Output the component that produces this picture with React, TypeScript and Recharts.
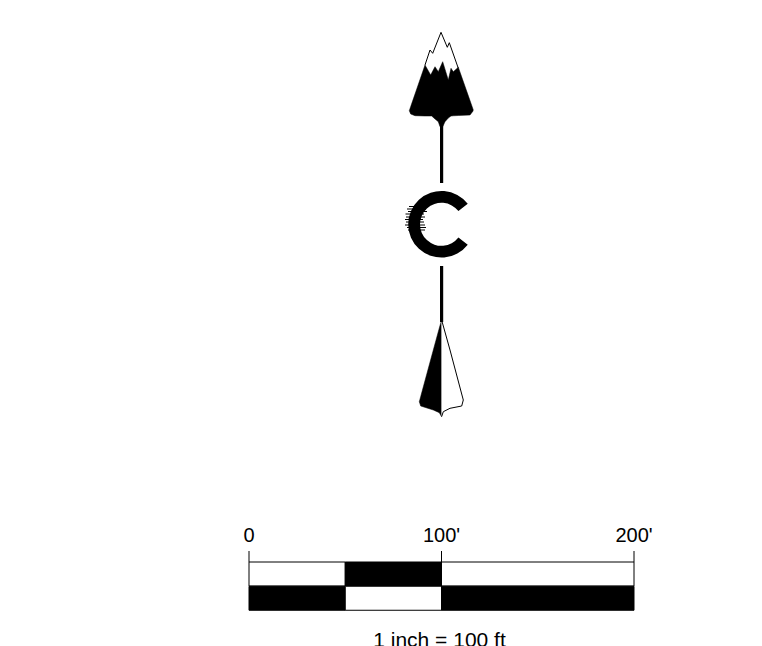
import { Area, Bar, BarChart, Cell, ComposedChart, Label, Line, Pie, PieChart, XAxis, YAxis } from 'recharts'

const WIDTH = 762
const HEIGHT = 646
const FONT = '"Liberation Sans", Arial, sans-serif'

// scale bar, in feet
const scaleTicks = [0, 100, 200]
const scaleRows = ['top', 'bottom']
const scaleFirst = [50, 50]
const scaleSecond = [50, 50]
const scaleThird = [100, 100]
const firstColors = ['#fff', '#000']
const secondColors = ['#000', '#fff']
const thirdColors = ['#fff', '#000']
const scaleCaption = '1 inch = 100 ft'

// north arrow in page pixels
const crownX = [409.3, 410.7, 415, 425, 430.7, 431.7, 435, 438.3, 440, 442.7, 445, 448.3, 451, 453.3, 458.3, 470, 473.3]
const crownTop = [110.7, 106.6, 94.1, 65, 75, 73, 66.7, 71.7, 67.8, 61.7, 69.2, 80, 68.3, 71.7, 67.3, 100.6, 110]
const crownBottom = [110.7, 114, 115.7, 116, 116, 116, 118.9, 121.7, 126.7, 126.7, 121.7, 118, 116, 115.8, 115.5, 115, 110.7]

const peakX = [425, 430, 432.7, 441, 447.3, 449.3, 458.3]
const peakY = [65, 50, 53.3, 32.3, 47.3, 42.7, 68.3]

const stemX = [441.6, 441.6, null, 441.6, 441.6]
const stemY = [124, 183, null, 266, 322]

const tailLeftX = [419.3, 420.7, 433.3, 439.3, 441.6]
const tailLeftTop = [401.7, 396.5, 350, 328, 320]
const tailLeftBottom = [401.7, 406, 410, 412.7, 416.7]

const tailRightX = [441.6, 443.3, 450, 461.7, 463.3]
const tailRightTop = [320, 326, 350, 394, 400]
const tailRightBottom = [416.7, 411.7, 408.3, 406, 400]

const ringValue = [1]

const hairY = [206.5, 209, 211.5, 214, 217, 219.5, 222, 225, 227.5, 230]
const hairOuter = [409, 407, 408, 405.5, 406, 405, 406, 405, 407, 408]
const hairInner = [428, 426, 427, 424, 425, 423, 424, 425, 426, 425]

const scaleData = scaleRows.map((row, i) => ({
  row,
  first: scaleFirst[i],
  second: scaleSecond[i],
  third: scaleThird[i],
}))
const crownData = crownX.map((x, i) => ({ x, band: [crownTop[i], crownBottom[i]] }))
const tailLeftData = tailLeftX.map((x, i) => ({ x, band: [tailLeftTop[i], tailLeftBottom[i]] }))
const tailRightData = tailRightX.map((x, i) => ({ x, band: [tailRightTop[i], tailRightBottom[i]] }))
const peakData = peakX.map((x, i) => ({ x, y: peakY[i] }))
const stemData = stemX.map((x, i) => ({ x: x ?? 441.6, y: stemY[i] }))
const hairData = hairY.flatMap((y, i) => [
  { x: hairOuter[i], y },
  { x: hairInner[i], y },
  { x: hairInner[i], y: null },
])

const layer = { position: 'absolute', left: 0, top: 0 } as const

export default function App() {
  return (
    <div style={{ position: 'fixed', left: 0, top: 0, width: WIDTH, height: HEIGHT, background: '#fff', overflow: 'hidden' }}>
      <div style={layer}>
        <PieChart width={WIDTH} height={HEIGHT} margin={{ top: 0, right: 0, bottom: 0, left: 0 }}>
          <Pie
            data={ringValue.map(value => ({ value }))}
            dataKey="value"
            cx={441.5}
            cy={224.3}
            innerRadius={21.5}
            outerRadius={33.3}
            startAngle={38}
            endAngle={322}
            fill="#000"
            stroke="none"
            isAnimationActive={false}
          />
        </PieChart>
      </div>
      <div style={layer}>
        <ComposedChart width={WIDTH} height={HEIGHT} margin={{ top: 0, right: 0, bottom: 0, left: 0 }}>
          <XAxis type="number" dataKey="x" domain={[0, WIDTH]} hide />
          <YAxis type="number" domain={[0, HEIGHT]} reversed hide />
          <Area data={crownData} dataKey="band" type="linear" fill="#000" fillOpacity={1} stroke="#000" strokeWidth={0.5} dot={false} activeDot={false} isAnimationActive={false} />
          <Line data={peakData} dataKey="y" type="linear" stroke="#000" strokeWidth={1} dot={false} activeDot={false} isAnimationActive={false} />
          <Line data={stemData} dataKey="y" type="linear" stroke="#000" strokeWidth={3.2} dot={false} activeDot={false} isAnimationActive={false} />
          <Line data={hairData} dataKey="y" type="linear" stroke="#000" strokeWidth={1} dot={false} activeDot={false} isAnimationActive={false} />
          <Area data={tailLeftData} dataKey="band" type="linear" fill="#000" fillOpacity={1} stroke="#000" strokeWidth={0.5} dot={false} activeDot={false} isAnimationActive={false} />
          <Area data={tailRightData} dataKey="band" type="linear" fill="#fff" fillOpacity={1} stroke="#000" strokeWidth={1} dot={false} activeDot={false} isAnimationActive={false} />
        </ComposedChart>
      </div>
      <div style={layer}>
        <BarChart
          width={WIDTH}
          height={HEIGHT}
          data={scaleData}
          layout="vertical"
          barCategoryGap={0}
          margin={{ top: 532, right: 128, bottom: 0, left: 249 }}
        >
          <XAxis
            type="number"
            orientation="top"
            height={30}
            domain={[0, 200]}
            ticks={scaleTicks}
            tickFormatter={(v: number) => (v === 0 ? '0' : `${v}'`)}
            axisLine={false}
            tickSize={11}
            tickMargin={9}
            tickLine={{ stroke: '#000' }}
            tick={{ fill: '#000', fontSize: 20, fontFamily: FONT }}
            interval={0}
          />
          <XAxis
            xAxisId="caption"
            type="number"
            orientation="bottom"
            height={35.5}
            domain={[0, 200]}
            tick={false}
            tickLine={false}
            axisLine={false}
          >
            <Label value={scaleCaption} position="insideTop" offset={22} dx={-2} fill="#000" fontSize={21} fontFamily={FONT} />
          </XAxis>
          <YAxis type="category" dataKey="row" hide />
          <Bar dataKey="first" stackId="scale" stroke="#000" isAnimationActive={false}>
            {scaleRows.map((row, i) => <Cell key={row} fill={firstColors[i]} />)}
          </Bar>
          <Bar dataKey="second" stackId="scale" stroke="#000" isAnimationActive={false}>
            {scaleRows.map((row, i) => <Cell key={row} fill={secondColors[i]} />)}
          </Bar>
          <Bar dataKey="third" stackId="scale" stroke="#000" isAnimationActive={false}>
            {scaleRows.map((row, i) => <Cell key={row} fill={thirdColors[i]} />)}
          </Bar>
        </BarChart>
      </div>
    </div>
  )
}
